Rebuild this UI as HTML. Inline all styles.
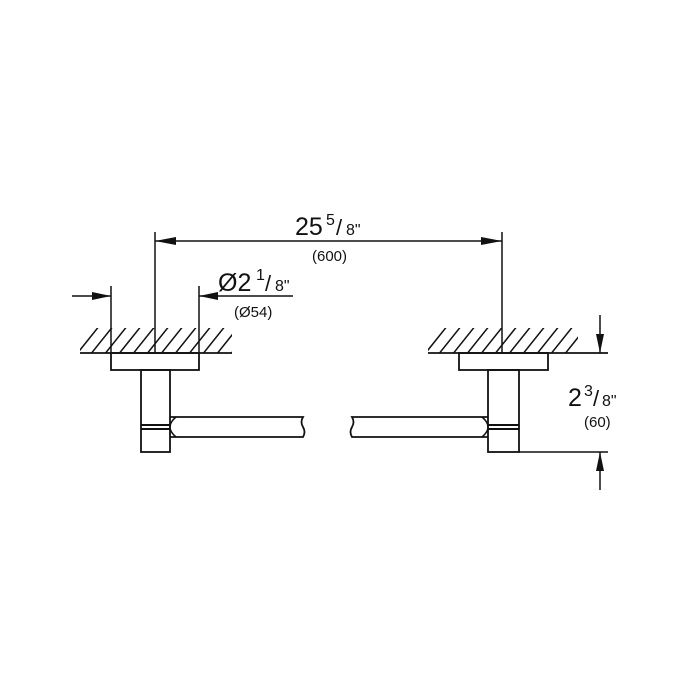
<!DOCTYPE html>
<html><head><style>body{margin:0;background:#fff}svg{display:block}text{font-family:"Liberation Sans",sans-serif;fill:#111}</style></head>
<body>
<svg width="700" height="700" viewBox="0 0 700 700" xmlns="http://www.w3.org/2000/svg">
<defs>
<clipPath id="cl"><rect x="80" y="328" width="152" height="25"/></clipPath>
<clipPath id="cr"><rect x="428" y="328" width="150" height="25"/></clipPath>
</defs>
<g stroke="#111" stroke-width="1.5" fill="none">
<g clip-path="url(#cl)">
<path d="M60 375 L100 325 M74 375 L114 325 M88 375 L128 325 M102 375 L142 325 M116 375 L156 325 M130 375 L170 325 M144 375 L184 325 M158 375 L198 325 M172 375 L212 325 M186 375 L226 325 M200 375 L240 325 M214 375 L254 325 M228 375 L268 325"/>
</g>
<g clip-path="url(#cr)">
<path d="M408 375 L448 325 M422 375 L462 325 M436 375 L476 325 M450 375 L490 325 M464 375 L504 325 M478 375 L518 325 M492 375 L532 325 M506 375 L546 325 M520 375 L560 325 M534 375 L574 325 M548 375 L588 325 M562 375 L602 325 M576 375 L616 325"/>
</g>
<line x1="80" y1="353" x2="232" y2="353" stroke-width="1.8"/>
<line x1="428" y1="353" x2="608" y2="353" stroke-width="1.8"/>
<rect x="111" y="353" width="88" height="17" stroke-width="1.8"/>
<rect x="141" y="370" width="29" height="82" stroke-width="1.8"/>
<path d="M170 417 L303 417 Q300 422 303 427 Q306 432 303 437 L170 437" stroke-width="1.8"/>
<path d="M176 417 Q170 422 170 427 Q170 432 176 437"/>
<line x1="141" y1="425" x2="170" y2="425" stroke-width="2"/>
<line x1="141" y1="429" x2="170" y2="429" stroke-width="2"/>
<rect x="459" y="353" width="89" height="17" stroke-width="1.8"/>
<rect x="488" y="370" width="31" height="82" stroke-width="1.8"/>
<path d="M488 417 L352 417 Q355 422 352 427 Q349 432 352 437 L488 437" stroke-width="1.8"/>
<path d="M482 417 Q488 422 488 427 Q488 432 482 437"/>
<line x1="488" y1="425" x2="519" y2="425" stroke-width="2"/>
<line x1="488" y1="429" x2="519" y2="429" stroke-width="2"/>
<line x1="155" y1="232" x2="155" y2="353"/>
<line x1="502" y1="232" x2="502" y2="353"/>
<line x1="155" y1="241" x2="502" y2="241"/>
<line x1="111" y1="286" x2="111" y2="353"/>
<line x1="199" y1="286" x2="199" y2="353"/>
<line x1="72" y1="296" x2="111" y2="296"/>
<line x1="199" y1="296" x2="293" y2="296"/>
<line x1="519" y1="452" x2="608" y2="452"/>
<line x1="600" y1="315" x2="600" y2="353"/>
<line x1="600" y1="452" x2="600" y2="490"/>
</g>
<g fill="#111">
<polygon points="155,241 176,237 176,245"/>
<polygon points="502,241 481,237 481,245"/>
<polygon points="111,296 92,292 92,300"/>
<polygon points="199,296 218,292 218,300"/>
<polygon points="600,353 596,334 604,334"/>
<polygon points="600,452 596,471 604,471"/>
</g>
<text x="295" y="235" font-size="25">25</text>
<text x="326" y="225" font-size="16">5</text>
<text x="336" y="235" font-size="22">/</text>
<text x="346" y="235" font-size="16">8"</text>
<text x="312" y="261" font-size="15">(600)</text>
<text x="218" y="291" font-size="25">Ø2</text>
<text x="256" y="280" font-size="16">1</text>
<text x="265" y="291" font-size="22">/</text>
<text x="275" y="291" font-size="16">8"</text>
<text x="234" y="317" font-size="15">(Ø54)</text>
<text x="568" y="406" font-size="25">2</text>
<text x="584" y="396" font-size="16">3</text>
<text x="593" y="406" font-size="22">/</text>
<text x="602" y="406" font-size="16">8"</text>
<text x="584" y="427" font-size="15">(60)</text>
</svg>
</body></html>
